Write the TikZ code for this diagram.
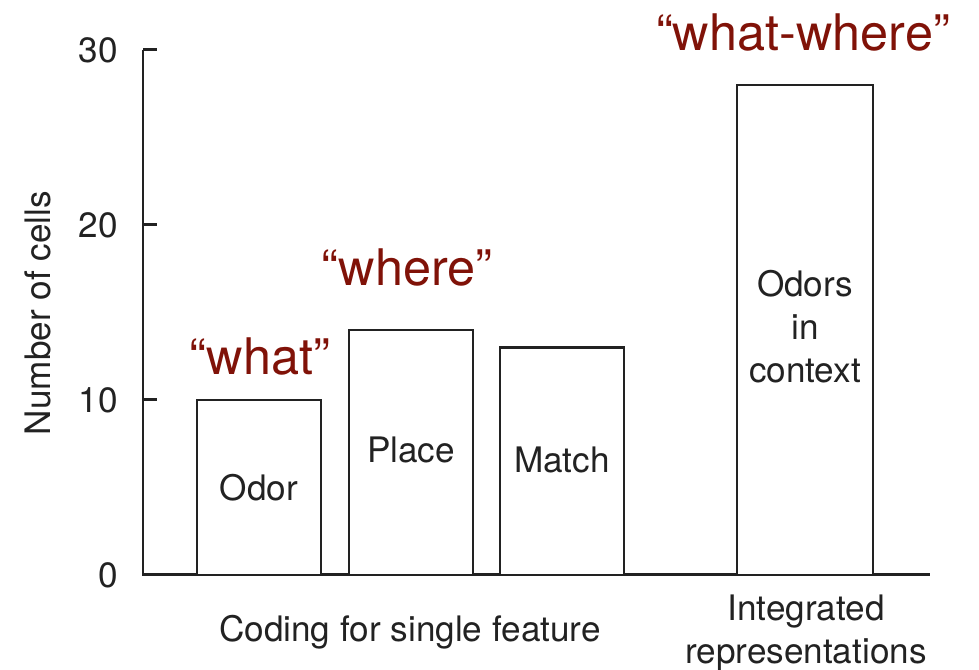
\documentclass[tikz,border=0pt]{standalone}
\usepackage{fontspec}
\setmainfont{TeX Gyre Heros}
\definecolor{quotered}{RGB}{128,18,8}
\definecolor{axisgray}{RGB}{34,34,34}
\tikzset{
  axisline/.style={axisgray, line width=1.7pt},
  barbox/.style={axisgray, line width=1.4pt, fill=white},
  ticklabel/.style={anchor=east, inner sep=0pt, font=\fontsize{20}{24}\selectfont, text=axisgray},
  barlabel/.style={align=center, inner sep=0pt, font=\fontsize{20}{24.5}\selectfont, text=axisgray},
  quote/.style={inner sep=0pt, text=quotered, font=\fontsize{28.7}{34}\selectfont}
}
\begin{document}
\begin{tikzpicture}[x=0.02cm, y=0.35cm]
  \useasboundingbox (-143,-5.43) rectangle (836,32.857);
  % axes
  \draw [axisline] (0,30)--(0,0)--(787,0);
  \foreach \v in {0,10,20,30} {
    \draw [axisline] (0,\v)--(14,\v);
    \node [ticklabel] (tick\v) at (-25,\v) {\v};
  }
  \node [rotate=90, font=\fontsize{20}{24}\selectfont, text=axisgray] (ylabel) at (-105,14.97) {Number of cells};
  % bars
  \draw [barbox] (54,0) rectangle (178,10);
  \draw [barbox] (206,0) rectangle (330,14);
  \draw [barbox] (357,0) rectangle (481,13);
  \draw [barbox] (594,0) rectangle (730,28);
  \node [barlabel] (odor) at (116,4.97) {Odor};
  \node [barlabel] (place) at (268,7.14) {Place};
  \node [barlabel] (match) at (419,6.57) {Match};
  \node [barlabel] (context) at (662,14.17) {Odors\\in\\context};
  % feature names
  \node [quote] (what) at (117,12.46) {“what”};
  \node [quote] (where) at (264,17.54) {“where”};
  \node [quote] (whatwhere) at (660,31.0) {“what-where”};
  % groups
  \node [barlabel] (single) at (267,-3.26) {Coding for single feature};
  \node [barlabel] (integrated) at (663,-3.3) {Integrated\\representations};
\end{tikzpicture}
\end{document}
